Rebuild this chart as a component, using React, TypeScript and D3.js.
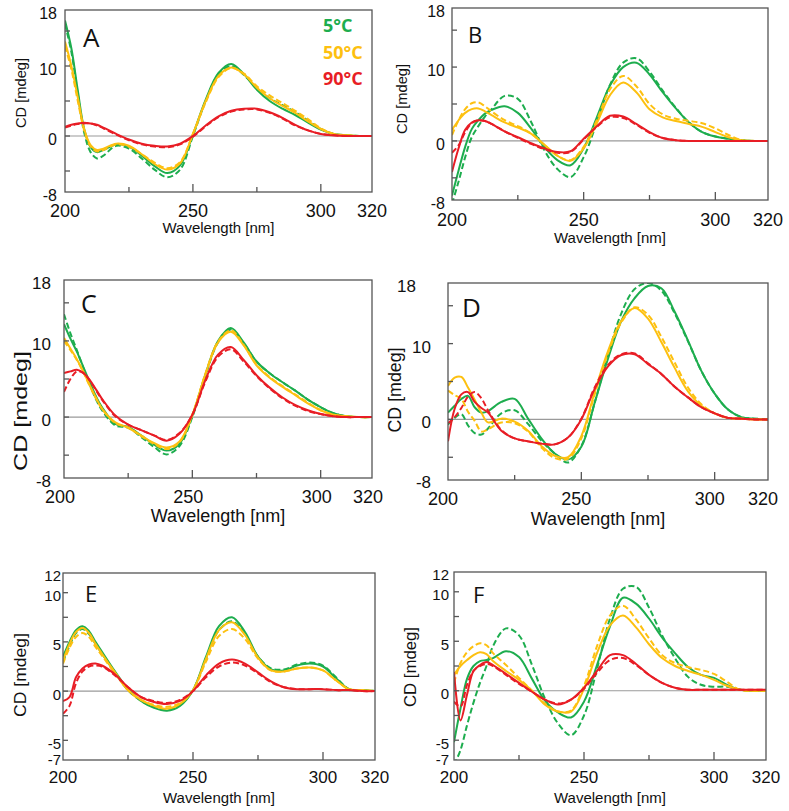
import React from 'react';
import * as d3 from 'd3';

// wavelength grid (nm), shared by every series
const WL = [200, 202.5, 205, 207.5, 210, 212.5, 215, 220, 225, 230, 235, 240, 245, 250, 255, 260, 265, 270, 275, 280, 285, 290, 295, 300, 305, 310, 315, 320];

// panel A
const aGreen = [16.5, 12.5, 6.5, 1.0, -1.6, -2.3, -2.0, -1.2, -1.5, -2.8, -4.3, -5.3, -4.2, 0.2, 5.2, 9.0, 10.3, 8.8, 6.6, 5.0, 3.9, 3.0, 1.9, 0.9, 0.3, 0.1, 0, 0];
const aGreenDash = [16.0, 12.0, 6.0, 0.5, -2.3, -3.2, -2.8, -1.4, -1.8, -3.2, -4.8, -5.9, -4.8, 0.0, 5.0, 8.8, 10.0, 8.7, 6.8, 5.4, 4.4, 3.4, 2.2, 1.0, 0.3, 0.1, 0, 0];
const aOrange = [13.5, 10.0, 5.5, 1.0, -1.3, -2.0, -1.8, -1.1, -1.4, -2.6, -4.0, -4.8, -3.9, 0.3, 5.0, 8.6, 9.8, 8.8, 6.9, 5.4, 4.3, 3.3, 2.1, 1.0, 0.3, 0.1, 0, 0];
const aOrangeDash = [12.8, 9.5, 5.0, 0.8, -1.5, -2.2, -2.0, -1.2, -1.5, -2.6, -3.8, -4.6, -3.7, 0.3, 4.8, 8.4, 9.7, 8.9, 7.1, 5.8, 4.7, 3.6, 2.4, 1.1, 0.3, 0.1, 0, 0];
const aRed = [1.3, 1.6, 1.8, 1.9, 1.8, 1.6, 1.2, 0.3, -0.5, -1.1, -1.4, -1.5, -1.1, 0.0, 1.5, 2.8, 3.6, 3.9, 3.9, 3.4, 2.6, 1.6, 0.8, 0.3, 0.1, 0, 0, 0];
const aRedDash = [1.2, 1.5, 1.7, 1.8, 1.8, 1.5, 1.1, 0.2, -0.6, -1.2, -1.5, -1.6, -1.2, -0.1, 1.4, 2.7, 3.5, 3.8, 3.8, 3.3, 2.5, 1.5, 0.8, 0.3, 0.1, 0, 0, 0];

// panel B
const bGreen = [-7.4, -4.0, -0.8, 1.6, 2.8, 3.7, 4.2, 4.7, 3.8, 1.7, -0.8, -2.6, -3.3, -1.0, 3.2, 7.5, 10.0, 10.6, 9.0, 6.6, 4.4, 2.5, 1.2, 0.6, 0.3, 0.1, 0, 0];
const bGreenDash = [-8.5, -5.5, -2.2, 0.5, 2.0, 3.3, 4.3, 6.1, 5.7, 2.6, -1.2, -3.8, -4.9, -2.2, 2.5, 7.6, 10.6, 11.2, 9.4, 6.8, 4.5, 2.5, 1.2, 0.6, 0.3, 0.1, 0, 0];
const bOrange = [1.5, 2.8, 3.8, 4.3, 4.4, 4.0, 3.5, 2.5, 1.8, 1.0, -0.5, -2.0, -2.7, -1.0, 2.4, 6.2, 7.9, 6.6, 4.3, 3.2, 2.7, 2.3, 1.9, 1.2, 0.5, 0.1, 0, 0];
const bOrangeDash = [0.8, 2.8, 4.3, 5.1, 5.2, 4.7, 4.0, 2.8, 2.0, 1.0, -0.5, -2.0, -2.6, -0.8, 2.8, 7.0, 8.8, 7.4, 5.0, 3.6, 3.0, 2.7, 2.4, 1.7, 0.8, 0.1, 0, 0];
const bRed = [-4.2, -1.0, 1.5, 2.5, 2.8, 2.7, 2.3, 1.3, 0.5, -0.3, -1.0, -1.5, -1.4, 0.3, 2.0, 3.4, 3.3, 2.3, 1.2, 0.4, 0.1, 0, 0, 0, 0, 0, 0, 0];
const bRedDash = [-1.6, -0.6, 1.2, 2.4, 2.8, 2.7, 2.3, 1.3, 0.4, -0.4, -1.1, -1.6, -1.5, 0.2, 1.9, 3.2, 3.1, 2.2, 1.1, 0.4, 0.1, 0, 0, 0, 0, 0, 0, 0];

// panel C
const cGreen = [12.2, 10.3, 8.6, 6.6, 4.6, 2.7, 1.2, -0.9, -1.3, -2.4, -3.6, -4.4, -3.5, 0.2, 5.5, 10.0, 11.7, 9.8, 7.3, 5.8, 4.6, 3.5, 2.3, 1.3, 0.5, 0.1, 0, 0];
const cGreenDash = [13.5, 11.0, 8.8, 6.5, 4.3, 2.3, 0.8, -1.1, -1.4, -2.6, -3.9, -4.9, -3.8, 0.0, 5.3, 9.8, 11.5, 9.7, 7.3, 5.8, 4.6, 3.5, 2.3, 1.3, 0.5, 0.1, 0, 0];
const cOrange = [10.4, 9.0, 7.6, 6.0, 4.2, 2.5, 1.0, -0.7, -1.4, -2.4, -3.4, -4.0, -3.2, 0.3, 5.5, 9.8, 11.2, 9.4, 6.8, 5.2, 4.0, 2.9, 1.8, 0.9, 0.3, 0.1, 0, 0];
const cOrangeDash = [10.0, 8.8, 7.5, 5.9, 4.1, 2.4, 1.0, -0.8, -1.4, -2.5, -3.5, -4.2, -3.3, 0.3, 5.6, 9.9, 11.4, 9.5, 6.9, 5.3, 4.1, 3.0, 1.9, 0.9, 0.3, 0.1, 0, 0];
const cRed = [5.8, 6.0, 6.2, 5.8, 4.9, 3.6, 2.3, 0.2, -1.0, -1.7, -2.4, -3.1, -2.2, 0.3, 4.8, 8.2, 9.2, 7.5, 5.5, 3.9, 2.6, 1.6, 0.9, 0.4, 0.1, 0, 0, 0];
const cRedDash = [3.3, 5.0, 6.0, 5.8, 4.8, 3.5, 2.2, 0.1, -1.0, -1.7, -2.4, -3.0, -2.1, 0.3, 4.6, 7.9, 8.9, 7.3, 5.4, 3.8, 2.5, 1.5, 0.8, 0.4, 0.1, 0, 0, 0];

// panel D
const dGreen = [0.9, 1.8, 2.7, 3.1, 1.6, 0.9, 1.1, 2.3, 2.7, 0.1, -2.5, -4.5, -5.3, -3.6, 2.2, 8.0, 13.0, 16.0, 17.6, 17.3, 14.2, 10.4, 6.4, 3.4, 1.3, 0.3, 0.1, 0];
const dGreenDash = [-0.7, 0.2, 0.7, -0.8, -1.8, -2.0, -1.2, 0.8, 1.2, -0.6, -2.8, -4.5, -5.7, -3.5, 2.2, 8.5, 14.0, 17.2, 18.0, 17.0, 14.0, 10.3, 6.4, 3.4, 1.3, 0.3, 0.1, 0];
const dOrange = [4.4, 5.5, 5.6, 4.2, 2.6, 0.9, -0.4, 0.1, -0.3, -1.5, -3.5, -4.8, -5.0, -2.2, 3.6, 9.0, 13.0, 14.7, 13.3, 10.2, 6.8, 3.7, 1.8, 0.8, 0.2, 0.1, 0, 0];
const dOrangeDash = [3.8, 3.2, 2.7, 1.0, -0.2, -1.6, -1.3, -0.4, -0.5, -1.6, -3.7, -5.1, -5.2, -2.5, 3.3, 8.7, 12.8, 14.8, 13.8, 10.9, 7.5, 4.2, 2.0, 0.8, 0.2, 0.1, 0, 0];
const dRed = [-2.9, 1.4, 3.3, 3.6, 2.3, 1.5, 0.9, -1.5, -2.5, -2.9, -3.2, -3.3, -2.4, 0.0, 4.0, 7.0, 8.5, 8.6, 7.3, 6.0, 4.3, 2.9, 1.6, 0.8, 0.2, 0.1, 0, 0];
const dRedDash = [-0.5, 0.3, 1.5, 3.0, 3.6, 2.8, 1.2, -1.4, -2.5, -2.9, -3.2, -3.3, -2.4, 0.1, 4.2, 7.2, 8.6, 8.7, 7.4, 6.0, 4.3, 2.9, 1.6, 0.8, 0.2, 0.1, 0, 0];

// panel E
const eGreen = [3.5, 5.0, 6.2, 6.6, 6.1, 5.0, 4.0, 2.0, 0.2, -1.0, -1.7, -2.0, -1.5, 0.1, 3.5, 6.6, 7.5, 6.0, 3.5, 2.2, 2.1, 2.6, 2.8, 2.5, 1.3, 0.2, 0.1, 0];
const eGreenDash = [3.0, 4.6, 5.9, 6.3, 5.8, 4.8, 3.8, 1.9, 0.1, -1.0, -1.6, -1.9, -1.4, 0.1, 3.3, 6.2, 7.1, 5.8, 3.5, 2.3, 2.2, 2.7, 2.9, 2.6, 1.4, 0.2, 0.1, 0];
const eOrange = [3.1, 4.8, 6.0, 6.4, 5.9, 4.8, 3.8, 1.9, 0.1, -0.9, -1.5, -1.8, -1.3, 0.1, 3.3, 6.2, 7.0, 5.7, 3.4, 2.1, 2.0, 2.3, 2.4, 2.1, 1.1, 0.2, 0.1, 0];
const eOrangeDash = [2.8, 4.4, 5.5, 5.9, 5.5, 4.5, 3.6, 1.8, 0.1, -0.9, -1.4, -1.6, -1.2, 0.1, 3.0, 5.6, 6.3, 5.3, 3.3, 2.1, 2.0, 2.3, 2.4, 2.1, 1.1, 0.2, 0.1, 0];
const eRed = [-1.0, -0.6, 1.4, 2.3, 2.7, 2.8, 2.6, 1.7, 0.4, -0.6, -1.1, -1.3, -1.0, 0.0, 1.6, 2.8, 3.2, 2.8, 1.9, 1.0, 0.4, 0.2, 0.2, 0.2, 0.1, 0.1, 0, 0];
const eRedDash = [-2.3, -1.5, 0.8, 2.0, 2.5, 2.6, 2.5, 1.6, 0.4, -0.6, -1.0, -1.2, -0.9, 0.0, 1.4, 2.5, 2.9, 2.6, 1.8, 0.9, 0.4, 0.2, 0.2, 0.2, 0.1, 0.1, 0, 0];

// panel F
const fGreen = [-5.2, -1.8, 1.2, 2.5, 3.0, 3.1, 3.3, 4.0, 3.4, 1.2, -1.0, -2.2, -2.7, -1.1, 2.6, 6.5, 9.4, 8.8, 7.3, 5.4, 3.8, 2.4, 1.6, 1.3, 0.6, 0.1, 0, 0];
const fGreenDash = [-7.5, -6.0, -3.5, -1.2, 0.8, 2.5, 4.5, 6.3, 5.6, 2.6, -0.8, -3.3, -4.5, -2.5, 2.2, 7.3, 10.3, 10.5, 8.4, 5.6, 3.3, 1.4, 0.6, 0.4, 0.4, 0.1, 0, 0];
const fOrange = [1.6, 2.5, 3.1, 3.6, 3.9, 3.7, 3.0, 2.0, 1.1, 0.0, -1.4, -2.1, -2.1, 0.2, 3.8, 6.6, 7.6, 6.4, 4.7, 3.3, 2.5, 2.0, 1.6, 1.1, 0.5, 0.1, 0, 0];
const fOrangeDash = [0.8, 2.8, 3.9, 4.5, 4.8, 4.6, 3.8, 2.6, 1.3, 0.0, -1.3, -2.1, -2.0, 0.5, 4.5, 7.6, 8.6, 7.2, 5.3, 3.6, 2.8, 2.4, 2.1, 1.7, 0.9, 0.1, 0, 0];
const fRed = [1.9, -3.0, -0.4, 2.0, 2.6, 2.9, 2.6, 1.7, 0.8, -0.1, -0.9, -1.4, -0.9, 0.3, 2.0, 3.6, 3.6, 2.7, 1.6, 0.8, 0.3, 0.1, 0.1, 0.1, 0.1, 0.1, 0.1, 0.1];
const fRedDash = [-1.1, -1.6, 0.6, 2.0, 2.5, 2.7, 2.5, 1.6, 0.7, -0.1, -0.9, -1.3, -0.9, 0.2, 1.8, 3.1, 3.3, 2.6, 1.6, 0.8, 0.3, 0.1, 0.1, 0.1, 0.1, 0.1, 0.1, 0.1];

const X_TICKS = [225, 250, 275, 300];
const X_LABELS = [200, 250, 300, 320];
const Y_TICKS_BIG = [-5, 0, 5, 10, 15];
const Y_LABELS_BIG = [18, 10, 0, -8];
const Y_TICKS_SMALL = [-5, -2.5, 0, 2.5, 5, 7.5, 10];
const Y_LABELS_SMALL = [12, 10, 5, 0, -5, -7];
const LEGEND = ['5°C', '50°C', '90°C'];

const GREEN = '#1dad4e';
const ORANGE = '#fdc010';
const RED = '#e81d25';

const sans = '"Liberation Sans", Arial, sans-serif';
const letterFont = '"Open Sans", "Noto Sans", sans-serif';

const panels = [
  { id: 'A', s: [aGreen, aGreenDash, aOrange, aOrangeDash, aRed, aRedDash], box: [65, 10, 372, 192], yDom: [-8, 18], yTicks: Y_TICKS_BIG, yLabels: Y_LABELS_BIG, yLabRight: 57, yLabSize: 16, topShift: 0, lastDy: 5, yTitle: [22, 93, 15.5, 70], xLabY: 212, xLabSize: 18, xLabShift: 0, xTitleY: 229, xTitleSize: 15, letter: [83, 47, 26] },
  { id: 'B', s: [bGreen, bGreenDash, bOrange, bOrangeDash, bRed, bRedDash], box: [452, 8, 768, 200], yDom: [-8, 18], yTicks: Y_TICKS_BIG, yLabels: Y_LABELS_BIG, yLabRight: 445, yLabSize: 16, topShift: 0, lastDy: 5, yTitle: [403, 99, 15, 70], xLabY: 221, xLabSize: 18, xLabShift: 0, xTitleY: 239, xTitleSize: 15, letter: [468, 43, 22] },
  { id: 'C', s: [cGreen, cGreenDash, cOrange, cOrangeDash, cRed, cRedDash], box: [64, 280, 372, 478], yDom: [-8, 18], yTicks: Y_TICKS_BIG, yLabels: Y_LABELS_BIG, yLabRight: 51, yLabSize: 17, topShift: 0, lastDy: 5, yTitle: [22, 411, 19, 120], xLabY: 498, xLabSize: 18, xLabShift: -4, xTitleY: 517, xTitleSize: 18, letter: [81, 313, 25] },
  { id: 'D', s: [dGreen, dGreenDash, dOrange, dOrangeDash, dRed, dRedDash], box: [448, 283, 768, 480], yDom: [-8, 18], yTicks: Y_TICKS_BIG, yLabels: Y_LABELS_BIG, yLabRight: 431, yLabSize: 17, topShift: -15, lastDy: 4, yTitle: [396, 390, 18, 85], xLabY: 500, xLabSize: 18, xLabShift: -5, xTitleY: 520, xTitleSize: 18, letter: [462, 317, 26] },
  { id: 'E', s: [eGreen, eGreenDash, eOrange, eOrangeDash, eRed, eRedDash], box: [63, 573, 375, 760], yDom: [-7, 12], yTicks: Y_TICKS_SMALL, yLabels: Y_LABELS_SMALL, yLabRight: 61, yLabSize: 15, topShift: 0, lastDy: 1, yTitle: [22, 675, 17, 84], xLabY: 779, xLabSize: 17, xLabShift: 0, xTitleY: 799, xTitleSize: 15, letter: [85, 602, 22] },
  { id: 'F', s: [fGreen, fGreenDash, fOrange, fOrangeDash, fRed, fRedDash], box: [454, 572, 766, 760], yDom: [-7, 12], yTicks: Y_TICKS_SMALL, yLabels: Y_LABELS_SMALL, yLabRight: 449, yLabSize: 15, topShift: 0, lastDy: 1, yTitle: [412, 667, 17, 80], xLabY: 779, xLabSize: 17, xLabShift: 0, xTitleY: 799, xTitleSize: 15, letter: [473, 603, 22] },
];

function Panel({ p }: { p: any }) {
  const [x0, y0, x1, y1] = p.box;
  const x = d3.scaleLinear().domain([200, 320]).range([x0, x1]);
  const y = d3.scaleLinear().domain(p.yDom).range([y1, y0]);
  const line = d3.line<number>()
    .x((_, i) => x(WL[i]))
    .y(d => y(d))
    .curve(d3.curveCatmullRom.alpha(0.5));

  // dashed then solid for each colour, red on top
  const order = [
    { d: p.s[1], c: GREEN, dash: '6,3' },
    { d: p.s[0], c: GREEN, dash: null },
    { d: p.s[3], c: ORANGE, dash: '6,3' },
    { d: p.s[2], c: ORANGE, dash: null },
    { d: p.s[5], c: RED, dash: '6,3' },
    { d: p.s[4], c: RED, dash: null },
  ];
  const clipId = 'clip' + p.id;
  const [tx, ty, tsize, tlen] = p.yTitle;
  const [lx, ly, lsize] = p.letter;
  const nLab = p.yLabels.length;

  return (
    <g>
      <defs>
        <clipPath id={clipId}>
          <rect x={x0} y={y0} width={x1 - x0} height={y1 - y0} />
        </clipPath>
      </defs>
      <line x1={x0} x2={x1} y1={y(0)} y2={y(0)} stroke="#9a9a9a" strokeWidth={1.2} />
      <g clipPath={`url(#${clipId})`}>
        {order.map((o, i) => (
          <path key={i} d={line(o.d) || ''} fill="none" stroke={o.c} strokeWidth={2}
            strokeDasharray={o.dash || undefined} />
        ))}
      </g>
      <rect x={x0} y={y0} width={x1 - x0} height={y1 - y0} fill="none" stroke="#555" strokeWidth={1.3} />
      {X_TICKS.map(t => (
        <line key={t} x1={x(t)} x2={x(t)} y1={y1} y2={y1 - (t % 50 === 0 ? 8 : 5)} stroke="#555" strokeWidth={1.3} />
      ))}
      {p.yTicks.map((t: number) => (
        <line key={t} x1={x0} x2={x0 + 5} y1={y(t)} y2={y(t)} stroke="#555" strokeWidth={1.3} />
      ))}
      {p.yLabels.map((t: number, i: number) => (
        <text key={t} x={p.yLabRight + (i === 0 ? p.topShift : 0)} y={y(t) + (i === nLab - 1 ? p.lastDy : 4.5)}
          textAnchor="end" dominantBaseline="middle" fontFamily={sans} fontSize={p.yLabSize} fill="#111">{t}</text>
      ))}
      {X_LABELS.map(t => (
        <text key={t} x={x(t) + p.xLabShift} y={p.xLabY} textAnchor="middle" dominantBaseline="middle"
          fontFamily={sans} fontSize={p.xLabSize} fill="#111">{t}</text>
      ))}
      <text x={(x0 + x1) / 2 + (p.id === 'D' ? -10 : 0)} y={p.xTitleY} textAnchor="middle" dominantBaseline="middle"
        fontFamily={sans} fontSize={p.xTitleSize} fill="#111">Wavelength [nm]</text>
      <text transform={`translate(${tx},${ty}) rotate(-90)`} textAnchor="middle" dominantBaseline="middle"
        fontFamily={sans} fontSize={tsize} textLength={tlen} lengthAdjust="spacingAndGlyphs" fill="#111">CD [mdeg]</text>
      <text x={lx} y={ly} fontFamily={letterFont} fontSize={lsize} fill="#111">{p.id}</text>
    </g>
  );
}

export default function App() {
  const legendColors = [GREEN, ORANGE, RED];
  return (
    <svg width={789} height={811} style={{ position: 'absolute', left: 0, top: 0, background: '#fff' }}>
      <rect width={789} height={811} fill="#fff" />
      {panels.map(p => <Panel key={p.id} p={p} />)}
      {LEGEND.map((t, i) => (
        <text key={t} x={323} y={32 + i * 26.5} fontFamily={letterFont} fontWeight={700} fontSize={18}
          fill={legendColors[i]}>{t}</text>
      ))}
    </svg>
  );
}
